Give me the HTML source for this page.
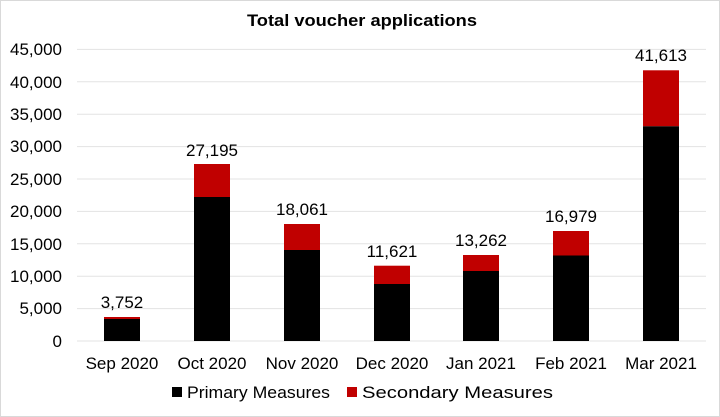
<!DOCTYPE html>
<html><head><meta charset="utf-8"><style>
body{margin:0;background:#fff;}
svg{display:block;font-family:"Liberation Sans",sans-serif;}
</style></head><body>
<svg width="720" height="417" viewBox="0 0 720 417">
<rect x="0.5" y="0.5" width="719" height="416" fill="#fff" stroke="#d9d9d9"/>
<text x="362" y="26" text-anchor="middle" font-size="17" font-weight="bold" textLength="230" lengthAdjust="spacingAndGlyphs">Total voucher applications</text>
<g stroke="#e3e3e3" stroke-width="1">
<line x1="77" x2="706" y1="49.4" y2="49.4"/><line x1="77" x2="706" y1="81.8" y2="81.8"/>
<line x1="77" x2="706" y1="114.2" y2="114.2"/><line x1="77" x2="706" y1="146.6" y2="146.6"/>
<line x1="77" x2="706" y1="179" y2="179"/><line x1="77" x2="706" y1="211.4" y2="211.4"/>
<line x1="77" x2="706" y1="243.8" y2="243.8"/><line x1="77" x2="706" y1="276.2" y2="276.2"/>
<line x1="77" x2="706" y1="308.6" y2="308.6"/><line x1="77" x2="706" y1="341" y2="341"/>
</g>
<g font-size="17" text-anchor="end" fill="#000">
<text x="62" y="55">45,000</text><text x="62" y="88">40,000</text><text x="62" y="120">35,000</text>
<text x="62" y="152">30,000</text><text x="62" y="185">25,000</text><text x="62" y="217">20,000</text>
<text x="62" y="250">15,000</text><text x="62" y="282">10,000</text><text x="62" y="314">5,000</text>
<text x="62" y="347">0</text>
</g>
<g>
<rect x="104" y="317" width="36" height="2" fill="#c00000"/><rect x="104" y="319" width="36" height="22" fill="#000"/>
<rect x="194" y="164" width="36" height="33" fill="#c00000"/><rect x="194" y="197" width="36" height="144" fill="#000"/>
<rect x="284" y="224" width="36" height="26" fill="#c00000"/><rect x="284" y="250" width="36" height="91" fill="#000"/>
<rect x="374" y="265.7" width="36" height="18.3" fill="#c00000"/><rect x="374" y="284" width="36" height="57" fill="#000"/>
<rect x="463" y="255" width="36" height="16" fill="#c00000"/><rect x="463" y="271" width="36" height="70" fill="#000"/>
<rect x="553" y="231" width="36" height="24.5" fill="#c00000"/><rect x="553" y="255.5" width="36" height="85.5" fill="#000"/>
<rect x="643" y="70.3" width="36" height="56" fill="#c00000"/><rect x="643" y="126.3" width="36" height="214.7" fill="#000"/>
</g>
<g font-size="17" text-anchor="middle">
<text x="122" y="308">3,752</text><text x="212" y="156">27,195</text><text x="302" y="215">18,061</text>
<text x="392" y="257">11,621</text><text x="481" y="246">13,262</text><text x="571" y="222">16,979</text>
<text x="661" y="61">41,613</text>
</g>
<g font-size="17" text-anchor="middle">
<text x="122" y="369">Sep 2020</text><text x="212" y="369">Oct 2020</text><text x="302" y="369">Nov 2020</text>
<text x="392" y="369">Dec 2020</text><text x="481" y="369">Jan 2021</text><text x="571" y="369">Feb 2021</text>
<text x="661" y="369">Mar 2021</text>
</g>
<rect x="172" y="387" width="10" height="10" fill="#000"/>
<text x="187" y="398" font-size="17" textLength="143" lengthAdjust="spacingAndGlyphs">Primary Measures</text>
<rect x="347" y="387" width="10" height="10" fill="#c00000"/>
<text x="362" y="398" font-size="17" textLength="191" lengthAdjust="spacingAndGlyphs">Secondary Measures</text>
</svg>
</body></html>
